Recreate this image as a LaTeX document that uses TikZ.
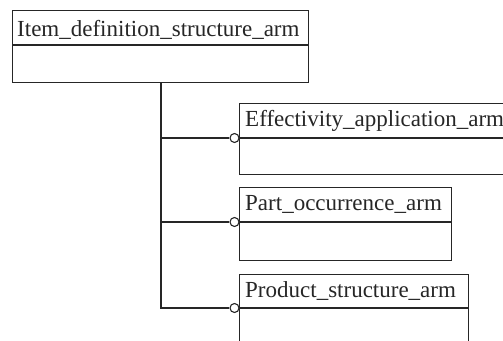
\documentclass[tikz,border=0pt]{standalone}
\usepackage{fontspec}
\setmainfont{Liberation Serif}
\begin{document}
\begin{tikzpicture}[x=1pt,y=-1pt,
  boxline/.style={draw=black!85,line width=1.1pt},
  entity/.style={boxline,anchor=north west,inner sep=0pt,fill=white},
  title/.style={anchor=base west,inner sep=0pt,text=black!85,font=\fontsize{23}{27}\selectfont},
  ring/.style={circle,draw=black!85,line width=1.1pt,fill=white,minimum size=9pt,inner sep=0pt},
  link/.style={draw=black!85,line width=1.1pt}]
\useasboundingbox[fill=white] (0,0) rectangle (503,340);
\clip (0,0) rectangle (503,340);
% top entity
\node[entity,minimum width=296pt,minimum height=72pt] (ids) at (12,10) {};
\coordinate (idsdl) at (12,45);
\coordinate (idsdr) at (308,45);
\draw[boxline] (idsdl) -- (idsdr);
\node[title] (idst) at (17,36.5) {Item\_definition\_structure\_arm};
% effectivity
\node[entity,minimum width=290pt,minimum height=71pt] (eff) at (239,103) {};
\coordinate (effdl) at (239,138);
\coordinate (effdr) at (529,138);
\draw[boxline] (effdl) -- (effdr);
\node[title] (efft) at (245,126.5) {Effectivity\_application\_arm};
% part occurrence
\node[entity,minimum width=212pt,minimum height=73pt] (po) at (239,187) {};
\coordinate (podl) at (239,222);
\coordinate (podr) at (451,222);
\draw[boxline] (podl) -- (podr);
\node[title] (pot) at (245,210.5) {Part\_occurrence\_arm};
% product structure
\node[entity,minimum width=229pt,minimum height=80pt] (ps) at (239,274) {};
\coordinate (psdl) at (239,308);
\coordinate (psdr) at (468,308);
\draw[boxline] (psdl) -- (psdr);
\node[title] (pst) at (245,297) {Product\_structure\_arm};
% connectors
\coordinate (trunk) at (161,82);
\node[ring] (r1) at (234.5,138) {};
\node[ring] (r2) at (234.5,222) {};
\node[ring] (r3) at (234.5,308) {};
\draw[link] (trunk) |- (r3.west);
\draw[link] (trunk |- r1) -- (r1.west);
\draw[link] (trunk |- r2) -- (r2.west);
\end{tikzpicture}
\end{document}
